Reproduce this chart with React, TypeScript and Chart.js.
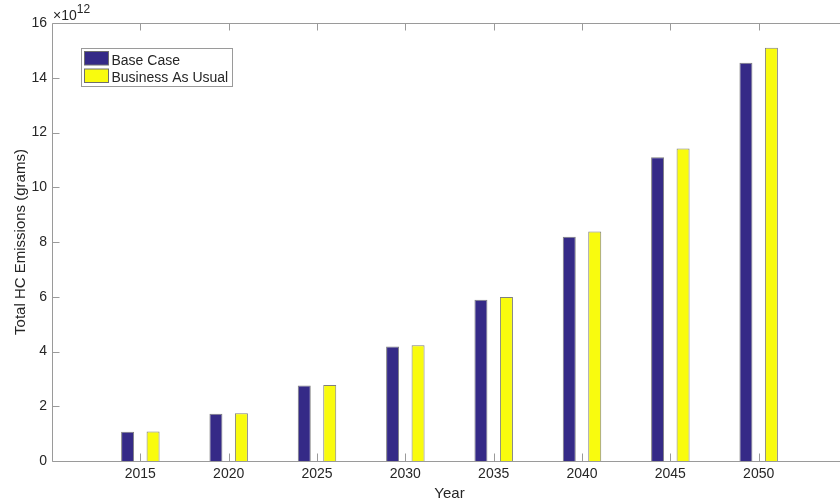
import React, { useEffect, useRef } from "react";
import { Chart, registerables } from "chart.js";

Chart.register(...registerables);

// Emission totals per scenario, in grams
const years = [2015, 2020, 2025, 2030, 2035, 2040, 2045, 2050];
const baseCase = [1.07e12, 1.73e12, 2.76e12, 4.18e12, 5.89e12, 8.19e12, 11.1e12, 14.55e12];
const businessAsUsual = [1.08e12, 1.74e12, 2.78e12, 4.23e12, 5.99e12, 8.38e12, 11.42e12, 15.1e12];
const seriesNames = ["Base Case", "Business As Usual"];
const seriesColors = ["#352a87", "#f9fb0e"];
const yearMin = 2010;
const yearMax = 2055;
const yearStep = 5;
const yMax = 16e12;
const yStep = 2e12;
const exponent = 12;

const FONT = "'Liberation Sans', Arial, Helvetica, sans-serif";
const TEXT = "#262626";
const AXIS = "#9a9a9a";

// MATLAB-style box with inward ticks, the exponent marker and the legend
const framePlugin = {
  id: "matlabFrame",
  afterDatasetsDraw(chart: any) {
    const { ctx, chartArea: a, scales } = chart;
    const xs = scales.x;
    const ys = scales.y;
    ctx.save();
    ctx.strokeStyle = AXIS;
    ctx.lineWidth = 1;
    ctx.beginPath();
    const L = Math.round(a.left) + 0.5;
    const R = Math.round(a.right) + 0.5;
    const T = Math.round(a.top) + 0.5;
    const B = Math.round(a.bottom) + 0.5;
    ctx.moveTo(L, T);
    ctx.lineTo(R, T);
    ctx.lineTo(R, B);
    ctx.lineTo(L, B);
    ctx.closePath();
    for (const t of xs.ticks) {
      if (t.value <= yearMin || t.value >= yearMax) continue;
      const px = Math.round(xs.getPixelForValue(t.value)) + 0.5;
      ctx.moveTo(px, B);
      ctx.lineTo(px, B - 8);
      ctx.moveTo(px, T);
      ctx.lineTo(px, T + 7);
    }
    for (const t of ys.ticks) {
      const py = Math.round(ys.getPixelForValue(t.value)) + 0.5;
      ctx.moveTo(L, py);
      ctx.lineTo(L + 7, py);
      ctx.moveTo(R, py);
      ctx.lineTo(R - 7, py);
    }
    ctx.stroke();
    ctx.restore();
  },
  afterDraw(chart: any) {
    const { ctx, chartArea: a } = chart;
    ctx.save();
    // exponent marker above the y axis
    ctx.fillStyle = TEXT;
    ctx.textBaseline = "alphabetic";
    ctx.textAlign = "left";
    ctx.font = `14px ${FONT}`;
    const base = "\u00d710";
    ctx.fillText(base, a.left + 1, a.top - 3);
    const w = ctx.measureText(base).width;
    ctx.font = `12px ${FONT}`;
    ctx.fillText(String(exponent), a.left + 1 + w, a.top - 10);

    // legend box
    const lx = a.left + 29.5;
    const ly = a.top + 25.5;
    const lw = 151;
    const lh = 38;
    ctx.fillStyle = "#ffffff";
    ctx.fillRect(lx, ly, lw, lh);
    ctx.strokeStyle = AXIS;
    ctx.lineWidth = 1;
    ctx.strokeRect(lx, ly, lw, lh);
    seriesNames.forEach((name, i) => {
      const sy = ly + 3 + i * 17.5;
      ctx.fillStyle = seriesColors[i];
      ctx.fillRect(lx + 3, sy, 24, 13.5);
      ctx.strokeStyle = "#6e6e6e";
      ctx.strokeRect(lx + 3, sy, 24, 13.5);
      ctx.fillStyle = TEXT;
      ctx.font = `14px ${FONT}`;
      ctx.textBaseline = "alphabetic";
      ctx.fillText(name, lx + 30, sy + 13);
    });
    ctx.restore();
  },
};

export default function App() {
  const canvasRef = useRef<HTMLCanvasElement | null>(null);

  useEffect(() => {
    const canvas = canvasRef.current;
    if (!canvas) return;
    const series = [baseCase, businessAsUsual];
    const chart = new Chart(canvas, {
      type: "bar",
      data: {
        datasets: series.map((vals, i) => ({
          label: seriesNames[i],
          data: years.map((yr, j) => ({ x: yr, y: vals[j] })),
          backgroundColor: seriesColors[i],
          borderColor: "#7f7f7f",
          borderWidth: 1,
          categoryPercentage: 0.577,
          barPercentage: 0.51,
        })),
      },
      options: {
        responsive: false,
        animation: false,
        devicePixelRatio: 1,
        layout: { padding: { top: 23, right: 9, left: 0, bottom: 0 } },
        plugins: {
          legend: { display: false },
          tooltip: { enabled: false },
          title: { display: false },
        },
        scales: {
          x: {
            type: "linear",
            min: yearMin,
            max: yearMax,
            offset: false,
            grid: { display: false, drawTicks: false, offset: false },
            border: { display: false },
            ticks: {
              stepSize: yearStep,
              autoSkip: false,
              maxRotation: 0,
              padding: 5,
              color: TEXT,
              font: { family: FONT, size: 14 },
              callback: (v: any) => (v <= yearMin || v >= yearMax ? "" : String(v)),
            },
            title: {
              display: true,
              text: "Year",
              color: TEXT,
              font: { family: FONT, size: 15 },
              padding: { top: 0, bottom: 1 },
            },
            afterFit: (s: any) => {
              s.height = 43;
            },
          },
          y: {
            min: 0,
            max: yMax,
            grid: { display: false, drawTicks: false },
            border: { display: false },
            ticks: {
              stepSize: yStep,
              padding: 5,
              color: TEXT,
              font: { family: FONT, size: 14 },
              callback: (v: any) => String(Math.round(v / Math.pow(10, exponent))),
            },
            title: {
              display: true,
              text: "Total HC Emissions (grams)",
              color: TEXT,
              font: { family: FONT, size: 15 },
              padding: { top: 12, bottom: 0 },
            },
            afterFit: (s: any) => {
              s.width = 52;
            },
          },
        },
      },
      plugins: [framePlugin],
    });
    return () => chart.destroy();
  }, []);

  return (
    <div
      style={{
        position: "fixed",
        left: 0,
        top: 0,
        width: 840,
        height: 504,
        overflow: "hidden",
        background: "#ffffff",
      }}
    >
      <canvas ref={canvasRef} width={856} height={504} style={{ width: 856, height: 504, display: "block" }} />
    </div>
  );
}
